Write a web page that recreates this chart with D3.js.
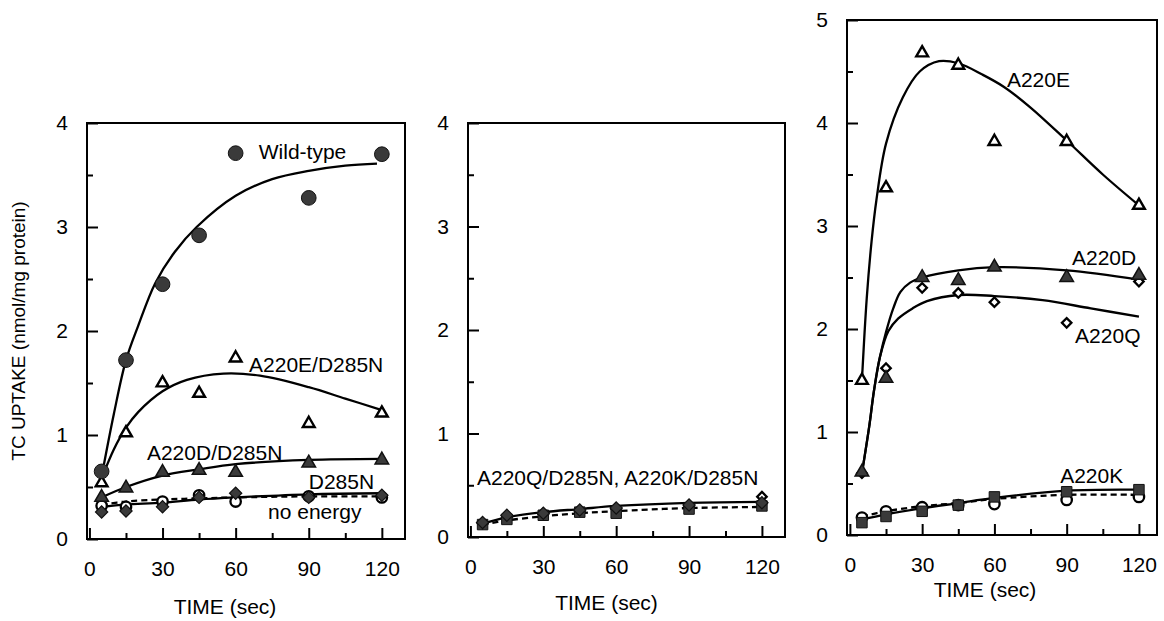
<!DOCTYPE html>
<html>
<head>
<meta charset="utf-8">
<script src="https://cdn.jsdelivr.net/npm/d3@7"></script>
<style>
  body { margin: 0; background: #fff; }
  svg text { font-family: "Liberation Sans", Arial, Helvetica, sans-serif; fill: #000; }
</style>
</head>
<body>
<svg id="chart" width="1164" height="621"></svg>
<script>
// Sampling times (sec)
const times = [5, 15, 30, 45, 60, 90, 120];
const xMajorTicks = [0, 30, 60, 90, 120];
const xMinorTicks = [15, 45, 75, 105];

// Panel 1: D285N background
const wildType   = [0.65, 1.72, 2.45, 2.92, 3.71, 3.28, 3.70];
const e220d285   = [0.54, 1.02, 1.50, 1.40, 1.74, 1.11, 1.21];
const d220d285   = [0.40, 0.49, 0.64, 0.66, 0.64, 0.73, 0.76];
const d285n      = [0.26, 0.27, 0.31, 0.40, 0.44, 0.40, 0.42];
const noEnergy1  = [0.32, 0.31, 0.36, 0.42, 0.36, 0.41, 0.40];

// Panel 2
const q220d285   = [0.14, 0.21, 0.23, 0.26, 0.28, 0.31, 0.33];
const k220d285   = [0.12, 0.17, 0.21, 0.24, 0.23, 0.27, 0.30];
const noEnergy2  = [0.13, 0.19, 0.22, 0.25, 0.27, 0.30, 0.39];

// Panel 3: single mutants
const a220e      = [1.50, 3.37, 4.68, 4.56, 3.82, 3.82, 3.20];
const a220d      = [0.61, 1.52, 2.50, 2.47, 2.60, 2.50, 2.52];
const a220q      = [0.60, 1.62, 2.40, 2.35, 2.26, 2.06, 2.46];
const a220k      = [0.12, 0.18, 0.23, 0.29, 0.37, 0.42, 0.44];
const noEnergy3  = [0.17, 0.23, 0.27, 0.29, 0.30, 0.34, 0.37];

// Fitted curves, [time, uptake]
const fitWildType = [[5,0.60],[10,1.20],[15,1.72],[20,2.05],[27,2.46],[35,2.76],[44,3.00],[60,3.30],[75,3.46],[90,3.54],[105,3.59],[118,3.61]];
const fitE220D285 = [[5,0.58],[10,0.86],[15,1.07],[20,1.22],[30,1.42],[40,1.53],[55,1.59],[70,1.57],[90,1.46],[105,1.35],[120,1.24]];
const fitD220D285 = [[5,0.40],[15,0.50],[30,0.61],[45,0.67],[60,0.72],[90,0.76],[120,0.77]];
const fitD285N    = [[5,0.31],[15,0.33],[30,0.35],[45,0.38],[60,0.40],[90,0.43],[120,0.44]];
const fitNoE1     = [[5,0.33],[15,0.36],[30,0.38],[45,0.39],[60,0.40],[90,0.41],[120,0.41]];

const fitMidSolid = [[5,0.13],[15,0.19],[30,0.24],[45,0.27],[60,0.30],[90,0.33],[120,0.34]];
const fitMidDash  = [[5,0.12],[15,0.16],[30,0.20],[45,0.23],[60,0.25],[90,0.28],[120,0.29]];

const fitA220E = [[5,1.50],[7,2.30],[9,2.85],[11,3.25],[15,3.80],[22,4.25],[29,4.50],[37,4.60],[45,4.58],[55,4.47],[64,4.35],[75,4.15],[90,3.83],[105,3.50],[120,3.20]];
const fitA220D = [[5,0.60],[8,1.05],[10,1.40],[12.5,1.73],[15,1.97],[18,2.20],[21,2.36],[25,2.45],[30,2.50],[45,2.57],[60,2.60],[90,2.57],[120,2.48]];
const fitA220Q = [[5,0.60],[8,1.05],[10,1.40],[12.5,1.73],[16,1.98],[20,2.10],[26,2.20],[32,2.27],[45,2.33],[60,2.32],[80,2.28],[100,2.20],[120,2.12]];
const fitA220K = [[5,0.15],[15,0.20],[30,0.26],[45,0.31],[60,0.36],[90,0.43],[120,0.44]];
const fitNoE3  = [[5,0.18],[15,0.23],[30,0.28],[45,0.31],[60,0.35],[90,0.39],[120,0.39]];

// Annotation text, anchored in data units of each panel
const labels1 = [["Wild-type", 69.5, 3.72], ["A220E/D285N", 65.5, 1.68], ["A220D/D285N", 23.6, 0.83], ["D285N", 90, 0.55], ["no energy", 73.3, 0.26]];
const labels2 = [["A220Q/D285N, A220K/D285N", 2.7, 0.57]];
const labels3 = [["A220E", 65.2, 4.42], ["A220D", 92.2, 2.69], ["A220Q", 93.5, 1.94], ["A220K", 87.3, 0.58]];

const panels = [
  { box: [87, 405, 123, 539], xDomain: [-1, 129.5], yMax: 4, titleDx: -21, titleDy: 68,
    series: [[noEnergy1, "circOpen"], [d285n, "diaFilled"], [d220d285, "triFilled"], [e220d285, "triOpen"], [wildType, "circFilled"]],
    fits: [[fitWildType, false], [fitE220D285, false], [fitD220D285, false], [fitD285N, false], [fitNoE1, true]],
    labels: labels1 },
  { box: [468, 785, 123, 537], xDomain: [-1, 129.5], yMax: 4, titleDx: -20, titleDy: 66,
    series: [[noEnergy2, "diaOpen"], [k220d285, "sqFilled"], [q220d285, "diaFilled"]],
    fits: [[fitMidSolid, false], [fitMidDash, true]],
    labels: labels2 },
  { box: [847, 1157, 20, 535], xDomain: [-1.2, 127.5], yMax: 5, titleDx: -17, titleDy: 55,
    series: [[noEnergy3, "circOpen"], [a220k, "sqFilled"], [a220q, "diaOpen"], [a220d, "triFilled"], [a220e, "triOpen"]],
    fits: [[fitA220E, false], [fitA220D, false], [fitA220Q, false], [fitA220K, false], [fitNoE3, true]],
    labels: labels3 }
];

const svg = d3.select("#chart");
const FONT = 21;
const darkFill = "#3a3a3a";

const markerStyles = {
  circFilled: { type: d3.symbolCircle,   size: 170, fill: darkFill, stroke: "#111", sw: 1,   rot: 0 },
  circOpen:   { type: d3.symbolCircle,   size: 85,  fill: "#fff",   stroke: "#000", sw: 2.3, rot: 0 },
  triOpen:    { type: d3.symbolTriangle, size: 60,  fill: "#fff",   stroke: "#000", sw: 2.4, rot: 0 },
  triFilled:  { type: d3.symbolTriangle, size: 80,  fill: darkFill, stroke: "#111", sw: 1.5, rot: 0 },
  diaFilled:  { type: d3.symbolSquare,   size: 75,  fill: darkFill, stroke: "#111", sw: 1.2, rot: 45 },
  diaOpen:    { type: d3.symbolSquare,   size: 45,  fill: "#fff",   stroke: "#000", sw: 2.3, rot: 45 },
  sqFilled:   { type: d3.symbolSquare,   size: 110, fill: darkFill, stroke: "#111", sw: 1,   rot: 0 }
};

panels.forEach(p => {
  const [left, right, top, bottom] = p.box;
  const x = d3.scaleLinear().domain(p.xDomain).range([left, right]);
  const y = d3.scaleLinear().domain([0, p.yMax]).range([bottom, top]);
  const g = svg.append("g");

  // frame
  g.append("rect")
    .attr("x", left).attr("y", top)
    .attr("width", right - left).attr("height", bottom - top)
    .attr("fill", "none").attr("stroke", "#000").attr("stroke-width", 2);

  // x axis: major ticks with labels, minor ticks, all pointing inward
  const gx = g.append("g").attr("transform", `translate(0,${bottom})`)
    .call(d3.axisBottom(x).tickValues(xMajorTicks).tickSize(-11).tickPadding(22).tickFormat(d3.format("d")));
  const gxm = g.append("g").attr("transform", `translate(0,${bottom})`)
    .call(d3.axisBottom(x).tickValues(xMinorTicks).tickSize(-6).tickFormat(""));

  // y axis
  const yMajor = d3.range(0, p.yMax + 1);
  const yMinor = d3.range(0.5, p.yMax, 1);
  const gy = g.append("g").attr("transform", `translate(${left},0)`)
    .call(d3.axisLeft(y).tickValues(yMajor).tickSize(-11).tickPadding(19).tickFormat(d3.format("d")));
  const gym = g.append("g").attr("transform", `translate(${left},0)`)
    .call(d3.axisLeft(y).tickValues(yMinor).tickSize(-6).tickFormat(""));

  [gx, gxm, gy, gym].forEach(a => {
    a.select(".domain").remove();
    a.attr("font-size", FONT).attr("font-family", null);
    a.selectAll("line").attr("stroke", "#000").attr("stroke-width", 2);
    a.selectAll("text").attr("fill", "#000");
  });

  // x axis title
  g.append("text")
    .attr("x", (left + right) / 2 + p.titleDx)
    .attr("y", bottom + p.titleDy)
    .attr("dy", "0.35em")
    .attr("text-anchor", "middle")
    .attr("font-size", FONT)
    .text("TIME (sec)");

  // fitted curves
  const line = d3.line().x(d => x(d[0])).y(d => y(d[1])).curve(d3.curveCatmullRom.alpha(0.5));
  p.fits.forEach(([pts, dashed]) => {
    g.append("path")
      .attr("d", line(pts))
      .attr("fill", "none")
      .attr("stroke", "#000")
      .attr("stroke-width", 2.3)
      .attr("stroke-dasharray", dashed ? "6,4" : null);
  });

  // data markers
  p.series.forEach(([vals, kind]) => {
    const st = markerStyles[kind];
    const sym = d3.symbol().type(st.type).size(st.size);
    g.append("g").selectAll("path")
      .data(times.map((t, i) => [t, vals[i]]))
      .join("path")
      .attr("d", sym)
      .attr("transform", d => `translate(${x(d[0])},${y(d[1])}) rotate(${st.rot})`)
      .attr("fill", st.fill)
      .attr("stroke", st.stroke)
      .attr("stroke-width", st.sw)
      .attr("stroke-linejoin", "miter");
  });

  // series annotations
  g.append("g").selectAll("text")
    .data(p.labels)
    .join("text")
    .attr("x", d => x(d[1]))
    .attr("y", d => y(d[2]))
    .attr("dy", "0.35em")
    .attr("font-size", FONT)
    .text(d => d[0]);
});

// shared y axis title
svg.append("text")
  .attr("transform", "translate(18,331) rotate(-90)")
  .attr("dy", "0.35em")
  .attr("text-anchor", "middle")
  .attr("font-size", 19)
  .text("TC UPTAKE (nmol/mg protein)");
</script>
</body>
</html>
